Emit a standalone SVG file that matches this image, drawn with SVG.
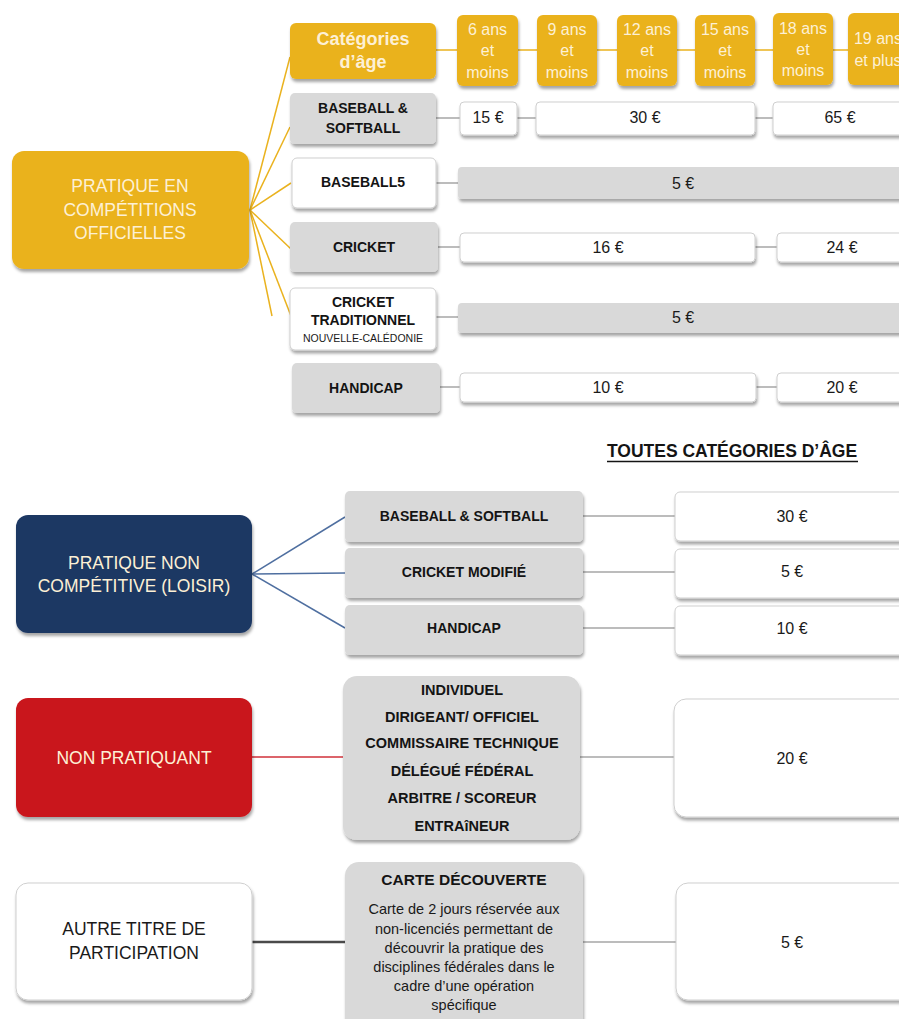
<svg xmlns="http://www.w3.org/2000/svg" width="899" height="1019" viewBox="0 0 899 1019">
<defs>
<filter id="sh" x="-10%" y="-20%" width="130%" height="160%">
<feDropShadow dx="1" dy="3" stdDeviation="1.5" flood-color="#000" flood-opacity="0.35"/>
</filter>
<style>
.y{fill:#EAB21E;filter:url(#sh)}
.g{fill:#D9D9D9;filter:url(#sh)}
.w{fill:#FFFFFF;stroke:#CFCFCF;stroke-width:1;filter:url(#sh)}
.nv{fill:#1F3864;filter:url(#sh)}
.rd{fill:#C9171E;filter:url(#sh)}
text{font-family:"Liberation Sans",Arial,sans-serif;text-anchor:middle;dominant-baseline:central}
.big{font-size:17.5px;fill:#FDF0D5}
.bigd{font-size:17.5px;fill:#1A1A1A}
.age{font-size:16px;fill:#FDF0D5}
.lab{font-size:14px;font-weight:bold;fill:#141414}
.lst{font-size:14.5px;font-weight:bold;fill:#141414}
.pr{font-size:16px;fill:#1A1A1A}
.sm{font-size:10.5px;fill:#1A1A1A}
.body{font-size:14.5px;fill:#1A1A1A}
.cy{stroke:#EAB21E;stroke-width:1.5;fill:none}
.cg{stroke:#A6A6A6;stroke-width:1.5;fill:none}
.cb{stroke:#4F6FA0;stroke-width:1.5;fill:none}
</style>
</defs>

<g id="connectors">
<line class="cy" x1="250" y1="210" x2="290" y2="57"/>
<line class="cy" x1="250" y1="210" x2="290" y2="127"/>
<line class="cy" x1="250" y1="210" x2="291" y2="183"/>
<line class="cy" x1="250" y1="210" x2="291" y2="249"/>
<line class="cy" x1="250" y1="210" x2="291" y2="316"/>
<line class="cy" x1="250" y1="210" x2="272" y2="316"/>
<line class="cy" x1="436" y1="50" x2="899" y2="50"/>
<line class="cg" x1="436" y1="118" x2="460" y2="118"/>
<line class="cg" x1="517" y1="118" x2="536" y2="118"/>
<line class="cg" x1="755" y1="118" x2="773" y2="118"/>
<line class="cg" x1="436" y1="183" x2="458" y2="183"/>
<line class="cg" x1="438" y1="247" x2="460" y2="247"/>
<line class="cg" x1="755" y1="247" x2="777" y2="247"/>
<line class="cg" x1="436" y1="317" x2="458" y2="317"/>
<line class="cg" x1="440" y1="387" x2="460" y2="387"/>
<line class="cg" x1="756" y1="387" x2="777" y2="387"/>
<line class="cb" x1="252" y1="574" x2="345" y2="517"/>
<line class="cb" x1="252" y1="574" x2="345" y2="573"/>
<line class="cb" x1="252" y1="574" x2="345" y2="628"/>
<line class="cg" x1="583" y1="516" x2="675" y2="516"/>
<line class="cg" x1="583" y1="572" x2="675" y2="572"/>
<line class="cg" x1="583" y1="628" x2="675" y2="628"/>
<line stroke="#D0303A" stroke-width="1.5" x1="252" y1="757" x2="343" y2="757"/>
<line class="cg" x1="580" y1="757" x2="674" y2="757"/>
<line stroke="#4A4A4A" stroke-width="2.5" x1="252" y1="942" x2="345" y2="942"/>
<line class="cg" x1="583" y1="942" x2="676" y2="942"/>
</g>

<g id="n-competitions"><rect class="y" x="12" y="151" width="237" height="118" rx="12"/>
<text class="big" x="130" y="186">PRATIQUE EN</text><text class="big" x="130" y="210">COMPÉTITIONS</text><text class="big" x="130" y="233">OFFICIELLES</text></g>

<g id="n-categories"><rect class="y" x="290" y="23" width="146" height="56" rx="6"/>
<text x="363" y="39" style="font-size:18px;font-weight:bold;fill:#FDF0D5">Catégories</text><text x="363" y="62" style="font-size:18px;font-weight:bold;fill:#FDF0D5">d’âge</text></g>

<g id="age-6"><rect class="y" x="457" y="15" width="61" height="71" rx="6"/><text class="age" x="487.5" y="29">6 ans</text><text class="age" x="487.5" y="50">et</text><text class="age" x="487.5" y="72">moins</text></g>
<g id="age-9"><rect class="y" x="537" y="15" width="60" height="71" rx="6"/><text class="age" x="567" y="29">9 ans</text><text class="age" x="567" y="50">et</text><text class="age" x="567" y="72">moins</text></g>
<g id="age-12"><rect class="y" x="617" y="15" width="60" height="71" rx="6"/><text class="age" x="647" y="29">12 ans</text><text class="age" x="647" y="50">et</text><text class="age" x="647" y="72">moins</text></g>
<g id="age-15"><rect class="y" x="695" y="15" width="60" height="71" rx="6"/><text class="age" x="725" y="29">15 ans</text><text class="age" x="725" y="50">et</text><text class="age" x="725" y="72">moins</text></g>
<g id="age-18"><rect class="y" x="773" y="13" width="60" height="72" rx="6"/><text class="age" x="803" y="28">18 ans</text><text class="age" x="803" y="49">et</text><text class="age" x="803" y="70">moins</text></g>
<g id="age-19"><rect class="y" x="848" y="13" width="80" height="72" rx="6"/><text class="age" x="878" y="38">19 ans</text><text class="age" x="878" y="60">et plus</text></g>

<g id="n-bs"><rect class="g" x="290" y="93" width="146" height="51" rx="5"/><text class="lab" x="363" y="108">BASEBALL &amp;</text><text class="lab" x="363" y="128">SOFTBALL</text></g>
<g id="n-b5"><rect class="w" x="292" y="158" width="144" height="50" rx="5"/><text class="lab" x="363" y="182">BASEBALL5</text></g>
<g id="n-cricket"><rect class="g" x="290" y="222" width="148" height="50" rx="5"/><text class="lab" x="364" y="247">CRICKET</text></g>
<g id="n-crtrad"><rect class="w" x="290" y="288" width="146" height="62" rx="5"/><text class="lab" x="363" y="302">CRICKET</text><text class="lab" x="363" y="320">TRADITIONNEL</text><text class="sm" x="363" y="338">NOUVELLE-CALÉDONIE</text></g>
<g id="n-handicap"><rect class="g" x="292" y="363" width="148" height="50" rx="5"/><text class="lab" x="366" y="388">HANDICAP</text></g>

<g id="p-15"><rect class="w" x="460" y="102" width="57" height="33" rx="4"/><text class="pr" x="488" y="117">15 €</text></g>
<g id="p-30"><rect class="w" x="536" y="102" width="219" height="33" rx="4"/><text class="pr" x="645" y="117">30 €</text></g>
<g id="p-65"><rect class="w" x="773" y="102" width="150" height="33" rx="4"/><text class="pr" x="840" y="117">65 €</text></g>
<g id="p-b5"><rect class="g" x="458" y="167" width="470" height="32" rx="4"/><text class="pr" x="683" y="183">5 €</text></g>
<g id="p-16"><rect class="w" x="460" y="233" width="295" height="29" rx="4"/><text class="pr" x="608" y="247">16 €</text></g>
<g id="p-24"><rect class="w" x="777" y="233" width="150" height="29" rx="4"/><text class="pr" x="842" y="247">24 €</text></g>
<g id="p-trad"><rect class="g" x="458" y="303" width="470" height="30" rx="4"/><text class="pr" x="683" y="317">5 €</text></g>
<g id="p-10"><rect class="w" x="460" y="373" width="296" height="29" rx="4"/><text class="pr" x="608" y="387">10 €</text></g>
<g id="p-20"><rect class="w" x="777" y="373" width="150" height="29" rx="4"/><text class="pr" x="842" y="387">20 €</text></g>

<g id="t-toutes"><text x="732" y="451" style="font-size:17.5px;font-weight:bold;fill:#141414">TOUTES CATÉGORIES D’ÂGE</text><line x1="607" y1="461.5" x2="858" y2="461.5" stroke="#141414" stroke-width="1.3"/></g>

<g id="n-loisir"><rect class="nv" x="16" y="515" width="236" height="118" rx="12"/><text class="big" x="134" y="563">PRATIQUE NON</text><text class="big" x="134" y="586">COMPÉTITIVE (LOISIR)</text></g>
<g id="n-l-bs"><rect class="g" x="345" y="491" width="238" height="51" rx="5"/><text class="lab" x="464" y="516">BASEBALL &amp; SOFTBALL</text></g>
<g id="n-l-cm"><rect class="g" x="345" y="548" width="238" height="50" rx="5"/><text class="lab" x="464" y="572">CRICKET MODIFIÉ</text></g>
<g id="n-l-h"><rect class="g" x="345" y="605" width="238" height="50" rx="5"/><text class="lab" x="464" y="628">HANDICAP</text></g>
<g id="p-l-30"><rect class="w" x="675" y="492" width="250" height="49" rx="5"/><text class="pr" x="792" y="516">30 €</text></g>
<g id="p-l-5"><rect class="w" x="675" y="549" width="250" height="49" rx="5"/><text class="pr" x="792" y="571">5 €</text></g>
<g id="p-l-10"><rect class="w" x="675" y="606" width="250" height="49" rx="5"/><text class="pr" x="792" y="628">10 €</text></g>

<g id="n-nonprat"><rect class="rd" x="16" y="698" width="236" height="119" rx="12"/><text class="big" x="134" y="758">NON PRATIQUANT</text></g>
<g id="n-roles"><rect class="g" x="343" y="676" width="237" height="164" rx="14"/>
<text class="lst" x="462" y="690">INDIVIDUEL</text><text class="lst" x="462" y="717">DIRIGEANT/ OFFICIEL</text><text class="lst" x="462" y="743">COMMISSAIRE TECHNIQUE</text><text class="lst" x="462" y="771">DÉLÉGUÉ FÉDÉRAL</text><text class="lst" x="462" y="798">ARBITRE / SCOREUR</text><text class="lst" x="462" y="826">ENTRAîNEUR</text></g>
<g id="p-np"><rect class="w" x="674" y="699" width="252" height="118" rx="12"/><text class="pr" x="792" y="758">20 €</text></g>

<g id="n-autre"><rect class="w" x="16" y="883" width="236" height="117" rx="12"/><text class="bigd" x="134" y="929">AUTRE TITRE DE</text><text class="bigd" x="134" y="953">PARTICIPATION</text></g>
<g id="n-carte"><rect class="g" x="345" y="862" width="238" height="170" rx="14"/>
<text x="464" y="879" style="font-size:15.5px;font-weight:bold;fill:#141414">CARTE DÉCOUVERTE</text>
<text class="body" x="464" y="909">Carte de 2 jours réservée aux</text>
<text class="body" x="464" y="929">non-licenciés permettant de</text>
<text class="body" x="464" y="948">découvrir la pratique des</text>
<text class="body" x="464" y="967">disciplines fédérales dans le</text>
<text class="body" x="464" y="986">cadre d’une opération</text>
<text class="body" x="464" y="1005">spécifique</text></g>
<g id="p-autre"><rect class="w" x="676" y="883" width="250" height="117" rx="12"/><text class="pr" x="792" y="942">5 €</text></g>
</svg>
